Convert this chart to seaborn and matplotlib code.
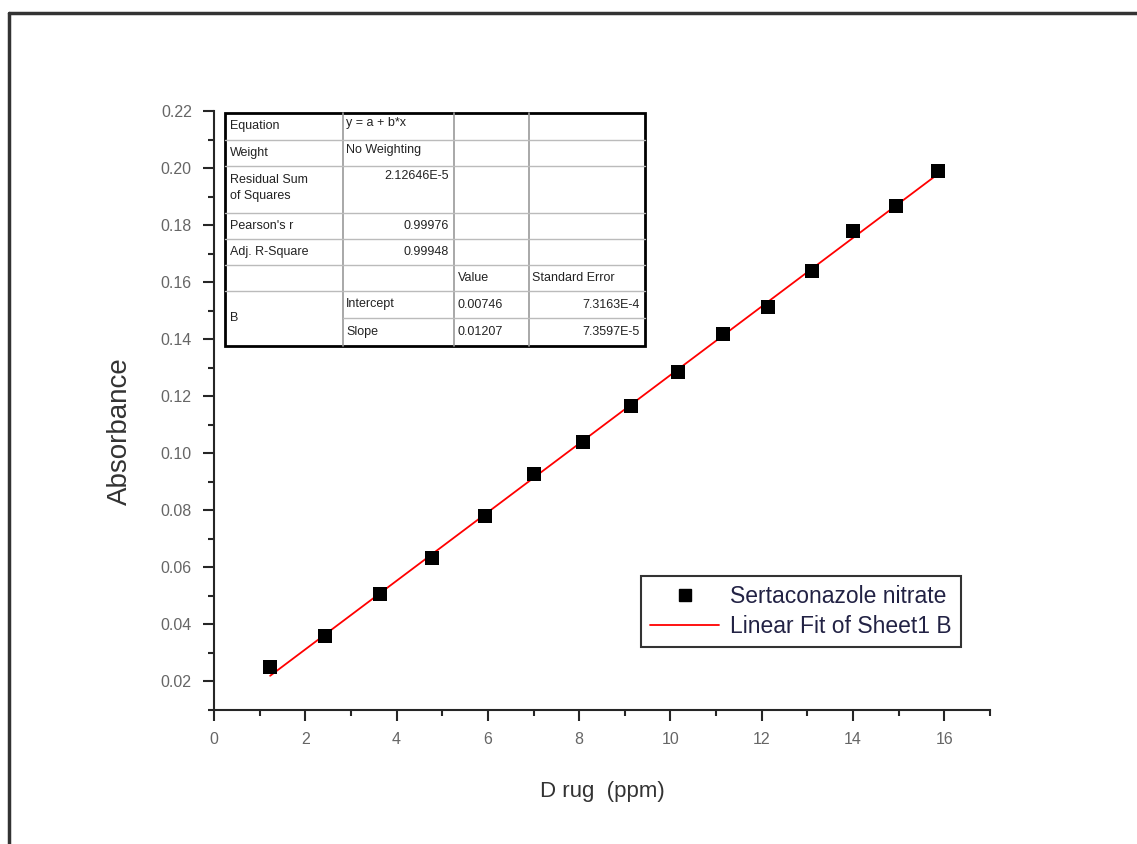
import numpy as np
import pandas as pd
import matplotlib
matplotlib.use("Agg")
import matplotlib.pyplot as plt
import seaborn as sns
from matplotlib.lines import Line2D
from matplotlib.ticker import MultipleLocator

# Data
drug_ppm = [1.23, 2.44, 3.64, 4.78, 5.93, 7.0, 8.08, 9.13, 10.16, 11.15, 12.14, 13.1, 14.0, 14.95, 15.85]
absorbance = [0.0249, 0.0358, 0.0505, 0.0632, 0.0779, 0.0926, 0.1039, 0.1165, 0.1284, 0.1418,
              0.1512, 0.1639, 0.1779, 0.1867, 0.1990]

# Fit report table (Origin style)
row_labels = ["Equation", "Weight", "Residual Sum\nof Squares", "Pearson's r", "Adj. R-Square", "", "B", ""]
row_values = ["y = a + b*x", "No Weighting", "2.12646E-5", "0.99976", "0.99948", "", "Intercept", "Slope"]
col_value = ["", "", "", "", "", "Value", "0.00746", "0.01207"]
col_err = ["", "", "", "", "", "Standard Error", "7.3163E-4", "7.3597E-5"]

df = pd.DataFrame({"Drug (ppm)": drug_ppm, "Absorbance": absorbance})

sns.set_style("ticks")
plt.rcParams["font.family"] = ["Liberation Sans", "DejaVu Sans"]

fig = plt.figure(figsize=(11.37, 8.44), dpi=100)
ax = fig.add_axes([214 / 1137, 1 - 710 / 844, (990 - 214) / 1137, (710 - 111) / 844])

sns.regplot(data=df, x="Drug (ppm)", y="Absorbance", ax=ax, ci=None, scatter=False,
            line_kws={"color": "red", "linewidth": 1.3})
sns.scatterplot(data=df, x="Drug (ppm)", y="Absorbance", ax=ax, marker="s", s=95,
                color="black", edgecolor="black", linewidth=0, zorder=3)

ax.set_xlim(0, 17)
ax.set_ylim(0.01, 0.22)
ax.set_xticks(np.arange(0, 17, 2))
ax.set_yticks(np.arange(0.02, 0.221, 0.02))
ax.xaxis.set_minor_locator(MultipleLocator(1))
ax.yaxis.set_minor_locator(MultipleLocator(0.01))
ax.set_yticklabels([f"{v:.2f}" for v in np.arange(0.02, 0.221, 0.02)])
ax.tick_params(which="major", direction="out", length=8, width=1.5, labelsize=11.5,
               labelcolor="#666666", pad=8)
ax.tick_params(which="minor", direction="out", length=4, width=1.5)
sns.despine(ax=ax)
ax.spines["left"].set_linewidth(1.5)
ax.spines["bottom"].set_linewidth(1.5)
ax.set_xlabel("D rug  (ppm)", fontsize=16, color="#333333", labelpad=24)
ax.set_ylabel("Absorbance", fontsize=20, color="#333333")
ax.yaxis.set_label_coords(-0.105, 0.466)

handles = [Line2D([], [], marker="s", color="black", linestyle="none", markersize=9),
           Line2D([], [], color="red", linewidth=1.3)]
leg = ax.legend(handles, ["Sertaconazole nitrate", "Linear Fit of Sheet1 B"],
                loc="upper left", bbox_to_anchor=(641 / 1137, 1 - 576 / 844),
                bbox_transform=fig.transFigure, fontsize=16.5, frameon=True, fancybox=False,
                handlelength=3.0, borderpad=0.4, labelspacing=0.3, handletextpad=0.5,
                borderaxespad=0)
leg.get_frame().set_edgecolor("black")
leg.get_frame().set_linewidth(1.5)
for t in leg.get_texts():
    t.set_color("#222244")

# overlay in pixel coordinates for the page frame and the fit table
ov = fig.add_axes([0, 0, 1, 1], zorder=5)
ov.set_xlim(0, 1137)
ov.set_ylim(844, 0)
ov.axis("off")
ov.patch.set_alpha(0)
ov.plot([9, 1137], [13, 13], color="#333333", linewidth=2.5)
ov.plot([9, 9], [13, 844], color="#333333", linewidth=2.5)

xs = [225, 343, 454, 529, 645]
ys = [113, 140, 166, 213, 239, 265, 291, 318, 346]
ov.add_patch(plt.Rectangle((xs[0], ys[0]), xs[-1] - xs[0], ys[-1] - ys[0],
                           fill=False, edgecolor="black", linewidth=2))
for x in xs[1:-1]:
    ov.plot([x, x], [ys[0], ys[-1]], color="#999999", linewidth=1.2)
for y in ys[1:-1]:
    x_start = xs[1] if y == 318 else xs[0]
    ov.plot([x_start, xs[-1]], [y, y], color="#bbbbbb", linewidth=1.0)

fs = 9
for i in range(8):
    y0, y1 = ys[i], ys[i + 1]
    ym = (y0 + y1) / 2
    if row_labels[i] == "B":
        ov.text(xs[0] + 5, ys[7], "B", fontsize=fs, va="center", ha="left", color="#222")
    elif row_labels[i]:
        ov.text(xs[0] + 5, ym if "\n" not in row_labels[i] else y0 + 22, row_labels[i],
                fontsize=fs, va="center", ha="left", color="#222", linespacing=1.5)
    v = row_values[i]
    if v:
        if i in (2, 3, 4):
            ov.text(xs[2] - 5, ym if i != 2 else y0 + 10, v, fontsize=fs, va="center", ha="right", color="#222")
        else:
            ov.text(xs[1] + 3, ym if i not in (0, 1) else y0 + 10, v, fontsize=fs, va="center", ha="left", color="#222")
    if col_value[i]:
        ov.text(xs[2] + 4, ym, col_value[i], fontsize=fs, va="center", ha="left", color="#222")
    if col_err[i]:
        if i == 5:
            ov.text(xs[3] + 3, ym, col_err[i], fontsize=fs, va="center", ha="left", color="#222")
        else:
            ov.text(xs[4] - 5, ym, col_err[i], fontsize=fs, va="center", ha="right", color="#222")

fig.savefig("out.png", dpi=100)
